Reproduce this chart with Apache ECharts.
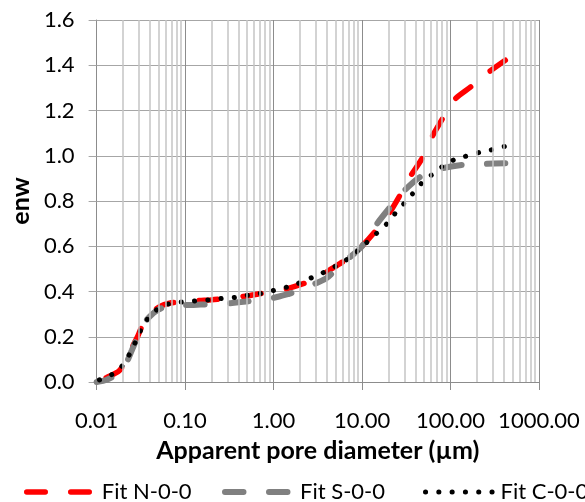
<!DOCTYPE html>
<html>
<head>
<meta charset="utf-8">
<script src="https://cdn.jsdelivr.net/npm/echarts@6/dist/echarts.min.js"></script>
<style>
    html, body { margin: 0; padding: 0; background: #fff; }
    #chart { width: 585px; height: 502px; }
</style>
</head>
<body>
<div id="chart"></div>
<script>
    // Fit N-0-0 (red)
    var xN = [0.01, 0.013, 0.018, 0.022, 0.025, 0.029, 0.033, 0.04, 0.05, 0.07, 0.1, 0.14, 0.2, 0.3, 0.5, 0.7, 1, 1.5, 2, 3, 4.5, 6, 8, 10.3, 13.5, 20.3, 26.1, 35, 47.2, 60.7, 80.7, 111, 169, 269, 416];
    var yN = [0.0, 0.02, 0.05, 0.10, 0.15, 0.20, 0.25, 0.295, 0.33, 0.35, 0.355, 0.36, 0.363, 0.37, 0.38, 0.39, 0.40, 0.415, 0.43, 0.455, 0.50, 0.53, 0.565, 0.606, 0.657, 0.746, 0.817, 0.908, 0.985, 1.078, 1.162, 1.248, 1.304, 1.369, 1.422];
    // Fit S-0-0 (gray)
    var xS = [0.01, 0.013, 0.018, 0.022, 0.025, 0.029, 0.033, 0.04, 0.05, 0.07, 0.1, 0.15, 0.25, 0.4, 0.6, 1, 1.5, 2, 3, 4, 6, 8, 10, 14.8, 21, 30.6, 46, 81.6, 137, 245, 416];
    var yS = [0.0, 0.01, 0.04, 0.09, 0.14, 0.20, 0.25, 0.29, 0.32, 0.34, 0.34, 0.342, 0.345, 0.352, 0.36, 0.372, 0.39, 0.405, 0.436, 0.46, 0.525, 0.565, 0.60, 0.70, 0.775, 0.849, 0.908, 0.945, 0.96, 0.964, 0.967];
    // Fit C-0-0 (black dotted)
    var xC = [0.01, 0.013, 0.0174, 0.0215, 0.0252, 0.0288, 0.0333, 0.04, 0.052, 0.0722, 0.098, 0.137, 0.19, 0.261, 0.366, 0.504, 0.687, 0.96, 1.32, 1.82, 2.42, 3.34, 4.48, 5.96, 7.87, 10.1, 13.0, 16.5, 20.8, 25.5, 32.1, 39.7, 49, 64.9, 85.6, 114, 156, 213, 290, 406];
    var yC = [0.005, 0.022, 0.049, 0.096, 0.145, 0.195, 0.247, 0.291, 0.33, 0.35, 0.354, 0.359, 0.363, 0.369, 0.374, 0.383, 0.39, 0.403, 0.416, 0.433, 0.454, 0.476, 0.502, 0.527, 0.561, 0.598, 0.64, 0.675, 0.716, 0.761, 0.802, 0.845, 0.886, 0.923, 0.96, 0.985, 1.0, 1.015, 1.026, 1.041];

    var seriesNames = ['Fit N-0-0', 'Fit S-0-0', 'Fit C-0-0'];
    var decades = [0.01, 0.1, 1, 10, 100];
    var minorSteps = [2, 3, 4, 5, 6, 7, 8, 9];

    function pairs(xs, ys) {
        return xs.map(function (x, i) { return [x, ys[i]]; });
    }

    // minor vertical grid lines of the log axis (2..9 in each decade)
    var minorLines = [];
    decades.forEach(function (d) {
        minorSteps.forEach(function (m) {
            minorLines.push({ xAxis: d * m });
        });
    });

    var font = 'Lato';
    var dashN = [18.5, 25.5];
    var dashS = [18.5, 25.5];
    var dotC = [0.1, 13.2];
    var chart = echarts.init(document.getElementById('chart'));

    function legendAt(name, left, color, width, dash) {
        return {
            data: [name],
            left: left,
            top: 481,
            padding: 0,
            itemWidth: 70,
            itemHeight: 14,
            itemGap: 0,
            itemStyle: { opacity: 0 },
            lineStyle: { color: color, width: width, type: dash, cap: 'round', dashOffset: 0.01 },
            textStyle: { fontFamily: font, fontSize: 22, color: '#000' }
        };
    }

    chart.setOption({
        animation: false,
        legend: [
            legendAt(seriesNames[0], 24, '#ff0000', 5.5, dashN),
            legendAt(seriesNames[1], 222, '#808080', 6, dashS),
            legendAt(seriesNames[2], 423, '#000000', 5, dotC)
        ],
        grid: { left: 82, right: 46, top: 20, bottom: 120 },
        xAxis: {
            type: 'log',
            logBase: 10,
            min: 0.01,
            max: 1000,
            name: 'Apparent pore diameter (µm)',
            nameLocation: 'middle',
            nameGap: 56,
            nameTextStyle: { fontFamily: font, fontSize: 25, fontWeight: 'bold', color: '#000' },
            axisLine: { show: true, lineStyle: { color: '#8c8c8c', width: 1 } },
            axisTick: { show: true, length: 8, lineStyle: { color: '#8c8c8c' } },
            axisLabel: {
                fontFamily: font, fontSize: 22, color: '#000', margin: 28,
                formatter: function (v) { return Number(v).toFixed(2); }
            },
            splitLine: { show: true, lineStyle: { color: '#8c8c8c', width: 1 } }
        },
        yAxis: {
            type: 'value',
            min: 0,
            max: 1.6,
            interval: 0.2,
            name: 'enw',
            nameLocation: 'middle',
            nameGap: 57,
            nameRotate: 90,
            nameTextStyle: { fontFamily: font, fontSize: 25, fontWeight: 'bold', color: '#000' },
            axisLine: { show: true, lineStyle: { color: '#8c8c8c', width: 1 } },
            axisTick: { show: true, length: 8, lineStyle: { color: '#a6a6a6' } },
            axisLabel: {
                fontFamily: font, fontSize: 22, color: '#000', margin: 22,
                formatter: function (v) { return v.toFixed(1); }
            },
            splitLine: { show: true, lineStyle: { color: '#a6a6a6', width: 1 } }
        },
        series: [
            {
                name: 'minor-grid',
                type: 'line',
                data: [],
                silent: true,
                z: 1,
                markLine: {
                    silent: true,
                    symbol: ['none', 'none'],
                    label: { show: false },
                    lineStyle: { color: '#c4c4c4', type: 'solid', width: 1.5 },
                    data: minorLines
                }
            },
            {
                name: seriesNames[0],
                type: 'line',
                data: pairs(xN, yN),
                showSymbol: false,
                symbol: 'none',
                smooth: 0.25,
                z: 3,
                itemStyle: { color: '#ff0000' },
                lineStyle: { color: '#ff0000', width: 5.5, type: dashN, cap: 'round' }
            },
            {
                name: seriesNames[1],
                type: 'line',
                data: pairs(xS, yS),
                showSymbol: false,
                symbol: 'none',
                smooth: 0.25,
                z: 3,
                itemStyle: { color: '#808080' },
                lineStyle: { color: '#808080', width: 6, type: dashS, cap: 'round' }
            },
            {
                name: seriesNames[2],
                type: 'line',
                data: pairs(xC, yC),
                showSymbol: false,
                symbol: 'none',
                smooth: 0.25,
                z: 3,
                itemStyle: { color: '#000000' },
                lineStyle: { color: '#000000', width: 5, type: dotC, cap: 'round' }
            }
        ]
    });

    // shift each dash pattern so the line ends on a dash, like the original
    function pathLength(xs, ys) {
        var len = 0, prev = null;
        xs.forEach(function (x, i) {
            var p = chart.convertToPixel({ xAxisIndex: 0, yAxisIndex: 0 }, [x, ys[i]]);
            if (prev) len += Math.hypot(p[0] - prev[0], p[1] - prev[1]);
            prev = p;
        });
        return len;
    }
    function endOffset(len, dash, endPhase) {
        var period = dash[0] + dash[1];
        return (((endPhase - len) % period) + period) % period;
    }
    chart.setOption({
        series: [
            {},
            { lineStyle: { dashOffset: endOffset(pathLength(xN, yN), dashN, dashN[0] - 0.5) } },
            { lineStyle: { dashOffset: endOffset(pathLength(xS, yS), dashS, dashS[0] - 0.5) } },
            { lineStyle: { dashOffset: endOffset(pathLength(xC, yC), dotC, 0.05) } }
        ]
    });
</script>
</body>
</html>
